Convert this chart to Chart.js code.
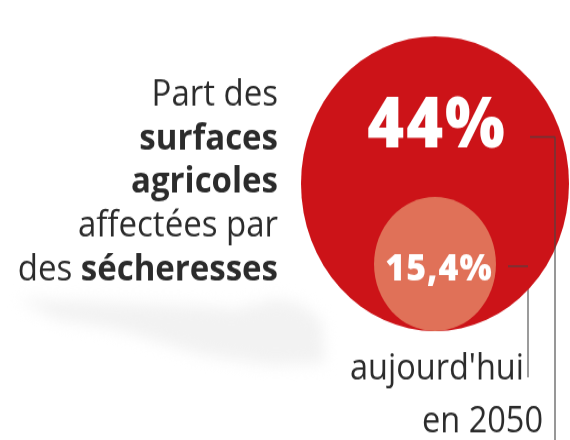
<!DOCTYPE html>
<html>
<head>
<meta charset="utf-8">
<script src="https://cdn.jsdelivr.net/npm/chart.js@4"></script>
<style>
  html, body { margin: 0; padding: 0; background: #fff; overflow: hidden; }
  canvas { display: block; }
</style>
</head>
<body>
<!-- drawn at 570x400, stretched to 440 tall like the source picture -->
<canvas id="chart" width="570" height="400" style="width:570px;height:440px"></canvas>
<script>
// data
const categories = ["aujourd'hui", "en 2050"];
const shares = [15.4, 44];

const titleLines = [
  [{ t: "Part des", b: false }],
  [{ t: "surfaces", b: true }],
  [{ t: "agricoles", b: true }],
  [{ t: "affectées par", b: false }],
  [{ t: "des ", b: false }, { t: "sécheresses", b: true }]
];

const FONT = "'Open Sans', 'DejaVu Sans', sans-serif";
const R_MAX = 134;
const BASE_Y = 301;   // bottom line of the bubbles (canvas px)
const CX = 435;
const maxShare = Math.max(...shares);
const radius = (v) => R_MAX * Math.pow(v / maxShare, 0.75);
const pct = (v) => String(v).replace(".", ",") + "%";

const point = (v) => ({ x: CX, y: BASE_Y - radius(v), r: radius(v) });

// faint grey map shadow behind the title
const shadow = [[18, 272], [110, 275], [200, 278], [235, 281], [275, 272], [300, 276], [322, 292],
  [325, 330], [270, 332], [200, 322], [120, 300], [55, 290]];

const leaders = {
  id: "leaders",
  beforeDatasetsDraw(chart) {
    const ctx = chart.ctx;
    ctx.save();
    ctx.filter = "blur(7px)";
    ctx.fillStyle = "#f2f2f2";
    ctx.beginPath();
    shadow.forEach(([x, y], i) => (i ? ctx.lineTo(x, y) : ctx.moveTo(x, y)));
    ctx.closePath();
    ctx.fill();
    ctx.filter = "none";

    // vertical part of the "aujourd'hui" leader, under the bubbles
    ctx.strokeStyle = "#7a7a7a";
    ctx.lineWidth = 1.5;
    ctx.beginPath();
    ctx.moveTo(528, 242);
    ctx.lineTo(528, 343);
    ctx.stroke();
    ctx.restore();
  },
  afterDatasetsDraw(chart) {
    const ctx = chart.ctx;
    const small = chart.getDatasetMeta(0).data[0];
    const big = chart.getDatasetMeta(1).data[0];
    ctx.save();

    // values in the bubbles
    ctx.fillStyle = "#fff";
    ctx.textAlign = "center";
    ctx.textBaseline = "middle";
    ctx.letterSpacing = "2px";
    ctx.font = "800 63px " + FONT;
    ctx.fillText(pct(shares[1]), big.x + 2, big.y - 51);
    ctx.letterSpacing = "1px";
    ctx.font = "800 34px " + FONT;
    ctx.fillText(pct(shares[0]), small.x + 4, small.y + 5);
    ctx.letterSpacing = "0px";

    // leader lines
    ctx.strokeStyle = "rgba(70,70,70,0.75)";
    ctx.lineWidth = 1.5;
    ctx.beginPath();
    ctx.moveTo(530, 124.5);
    ctx.lineTo(555, 124.5);
    ctx.moveTo(555, 124.5);
    ctx.lineTo(555, 400);
    ctx.moveTo(508, 242);
    ctx.lineTo(528, 242);
    ctx.stroke();

    // category labels
    ctx.fillStyle = "#2b2b2b";
    ctx.textAlign = "right";
    ctx.textBaseline = "alphabetic";
    ctx.font = "400 32.5px " + FONT;
    ctx.fillText(categories[0], 524, 345);
    ctx.fillText(categories[1], 543, 393);

    // title block, right aligned
    const rightX = 278;
    titleLines.forEach((parts, i) => {
      const y = 96 + i * 39.7;
      let x = rightX;
      for (let k = parts.length - 1; k >= 0; k--) {
        const p = parts[k];
        ctx.font = (p.b ? "700 " : "400 ") + "33px " + FONT;
        ctx.fillText(p.t, x, y);
        x -= ctx.measureText(p.t).width;
      }
    });
    ctx.restore();
  }
};

new Chart(document.getElementById("chart"), {
  type: "bubble",
  data: {
    datasets: [
      { label: categories[0], data: [point(shares[0])], backgroundColor: "#e07158", borderWidth: 0, clip: false },
      { label: categories[1], data: [point(shares[1])], backgroundColor: "#cc1318", borderWidth: 0, clip: false }
    ]
  },
  options: {
    responsive: false,
    animation: false,
    devicePixelRatio: 1,
    layout: { padding: 0, autoPadding: false },
    plugins: { legend: { display: false }, tooltip: { enabled: false } },
    events: [],
    scales: {
      x: { type: "linear", min: 0, max: 570, display: false },
      y: { type: "linear", min: 0, max: 400, reverse: true, display: false }
    }
  },
  plugins: [leaders]
});
</script>
</body>
</html>
